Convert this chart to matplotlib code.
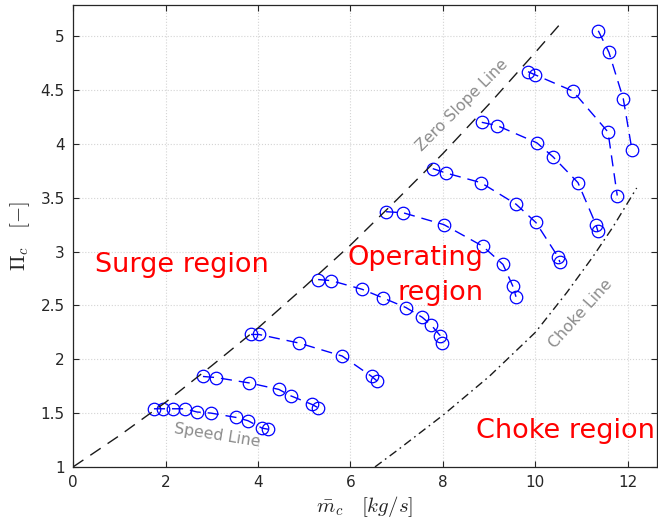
import matplotlib
matplotlib.use("Agg")
import matplotlib.pyplot as plt

# Compressor map: measured speed lines (corrected mass flow vs. pressure ratio)
speed_mc = [
    [1.75, 1.95, 2.16, 2.42, 2.68, 2.98, 3.52, 3.78, 4.09, 4.22],
    [2.81, 3.09, 3.81, 4.45, 4.71, 5.17, 5.30],
    [3.85, 4.02, 4.89, 5.82, 6.46, 6.57],
    [5.30, 5.58, 6.25, 6.70, 7.20, 7.55, 7.74, 7.94, 7.99],
    [6.77, 7.14, 8.02, 8.86, 9.30, 9.51, 9.58],
    [7.78, 8.06, 8.82, 9.58, 10.01, 10.49, 10.53],
    [8.84, 9.17, 10.03, 10.38, 10.92, 11.31, 11.35],
    [9.84, 10.00, 10.81, 11.57, 11.77],
    [11.36, 11.59, 11.90, 12.09],
]
speed_pi = [
    [1.54, 1.54, 1.54, 1.54, 1.51, 1.50, 1.46, 1.43, 1.36, 1.35],
    [1.84, 1.83, 1.78, 1.72, 1.66, 1.58, 1.55],
    [2.23, 2.23, 2.15, 2.03, 1.84, 1.80],
    [2.74, 2.73, 2.65, 2.57, 2.48, 2.39, 2.32, 2.22, 2.15],
    [3.37, 3.36, 3.25, 3.05, 2.88, 2.68, 2.58],
    [3.77, 3.73, 3.64, 3.44, 3.27, 2.95, 2.90],
    [4.20, 4.17, 4.01, 3.88, 3.64, 3.25, 3.19],
    [4.67, 4.64, 4.49, 4.11, 3.52],
    [5.05, 4.85, 4.42, 3.94],
]

# Surge (zero slope) boundary
zero_slope_mc = [0.0, 1.0, 2.0, 3.0, 4.0, 5.0, 6.0, 7.0, 8.0, 9.0, 10.0, 10.57]
zero_slope_pi = [1.00, 1.29, 1.60, 1.94, 2.29, 2.67, 3.06, 3.48, 3.91, 4.37, 4.85, 5.13]

# Choke boundary
choke_mc = [6.53, 7.0, 8.0, 9.0, 10.0, 10.68, 11.24, 11.68, 12.19]
choke_pi = [1.00, 1.15, 1.48, 1.84, 2.25, 2.62, 2.95, 3.23, 3.59]

x_ticks = [0, 2, 4, 6, 8, 10, 12]
y_ticks = [1, 1.5, 2, 2.5, 3, 3.5, 4, 4.5, 5]
y_tick_labels = ["1", "1.5", "2", "2.5", "3", "3.5", "4", "4.5", "5"]

plt.rcParams["font.family"] = ["DejaVu Sans"]
plt.rcParams["mathtext.fontset"] = "cm"

fig = plt.figure(figsize=(6.58, 5.30), dpi=100)
ax = fig.add_axes([0.111, 0.119, 0.8875, 0.8717])

ax.set_xlim(0, 12.63)
ax.set_ylim(1, 5.29)

ax.grid(True, linestyle=":", color="#d4d4d4", linewidth=0.8)
ax.set_axisbelow(True)

for mc, pi in zip(speed_mc, speed_pi):
    ax.plot(mc, pi, color="#0000ff", linewidth=1.0, dashes=(8, 5),
            marker="o", markersize=9, markerfacecolor="none",
            markeredgecolor="#0000ff", markeredgewidth=0.9)

ax.plot(zero_slope_mc, zero_slope_pi, color="#1a1a1a", linewidth=1.0,
        dashes=(9, 6))
ax.plot(choke_mc, choke_pi, color="#1a1a1a", linewidth=1.0,
        dashes=(6, 3, 1.2, 3))

red = "#ff0000"
ax.text(2.36, 2.81, "Surge region", color=red, fontsize=19.5,
        ha="center", va="baseline")
ax.text(8.87, 2.877, "Operating", color=red, fontsize=19.5,
        ha="right", va="baseline")
ax.text(8.87, 2.552, "region", color=red, fontsize=19.5,
        ha="right", va="baseline")
ax.text(12.58, 1.27, "Choke region", color=red, fontsize=19.5,
        ha="right", va="baseline")

gray = "#8c8c8c"
ax.text(3.11, 1.29, "Speed Line", color=gray, fontsize=11.3,
        rotation=-9, ha="center", va="center", rotation_mode="anchor")
ax.text(8.41, 4.355, "Zero Slope Line", color=gray, fontsize=11.3,
        rotation=45, ha="center", va="center", rotation_mode="anchor")
ax.text(10.98, 2.42, "Choke Line", color=gray, fontsize=11.3,
        rotation=48, ha="center", va="center", rotation_mode="anchor")

ax.set_xticks(x_ticks)
ax.set_yticks(y_ticks)
ax.set_yticklabels(y_tick_labels)
ax.tick_params(direction="in", top=True, right=True, length=4, width=0.8,
               colors="#262626", labelsize=11, pad=6)
for s in ax.spines.values():
    s.set_color("#262626")
    s.set_linewidth(0.9)

ax.set_xlabel(r"$\bar{m}_c\quad[kg/s]$", fontsize=15, color="#262626",
              labelpad=3)
ax.set_ylabel(r"$\Pi_c\quad[-]$", fontsize=15, color="#262626",
              labelpad=6)

fig.savefig("out.png", dpi=100)
